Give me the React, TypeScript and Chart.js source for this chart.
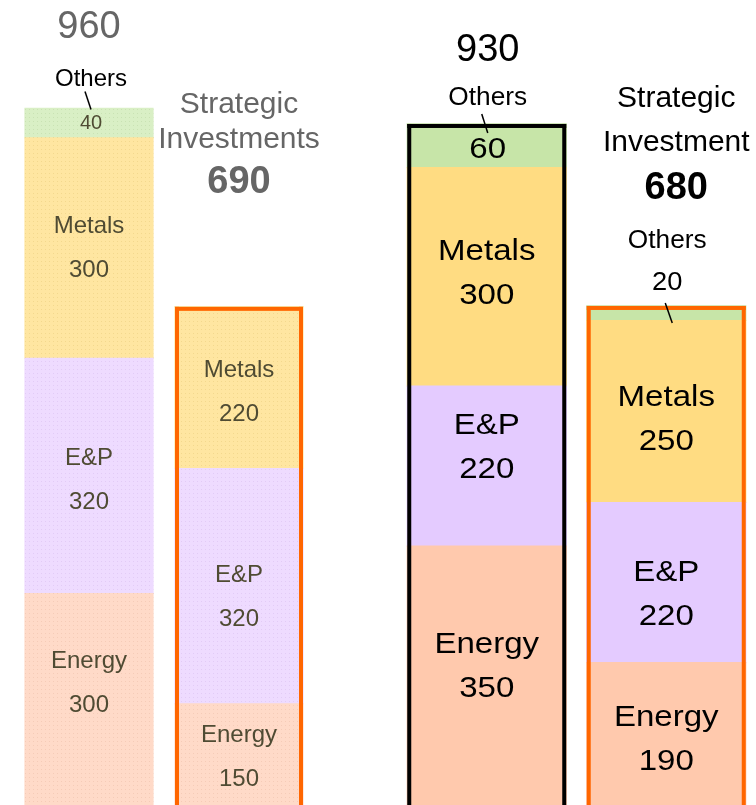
import React, { useEffect, useRef } from "react";
import { Chart, registerables } from "chart.js";

Chart.register(...registerables);

// ---- data ----
const segmentNames = ["Energy", "E&P", "Metals", "Others"];

const leftBars = ["Total", "Strategic Investments"];
const leftEnergy = [300, 150];
const leftEP = [320, 320];
const leftMetals = [300, 220];
const leftOthers = [40, 0];
const leftTotals = [960, 690];

const rightBars = ["Total", "Strategic Investment"];
const rightEnergy = [350, 190];
const rightEP = [220, 220];
const rightMetals = [300, 250];
const rightOthers = [60, 20];
const rightTotals = [930, 680];

// ---- styles ----
const VIEW_H = 805;
const FONT = '"Liberation Sans", Arial, sans-serif';
const leftColors = ["#ffdac8", "#eedbff", "#ffe6a1", "#d9efc5"];
const leftDots = ["#f5cbb7", "#e2cbf6", "#f3d88d", "#c9e2b3"];
const rightColors = ["#ffc9ad", "#e4cbff", "#ffdc82", "#c7e5a8"];
const ORANGE = "#ff6600";
// vertical nudges of the in-bar labels, [bar][segment] (px)
const leftLabelShift = [
  [-16, 4, 0],
  [3, 11, 5],
];
const rightLabelShift = [
  [-7, -18, -3],
  [8, 12, 8],
];

function dotPattern(base: string, dot: string) {
  const c = document.createElement("canvas");
  c.width = 4;
  c.height = 4;
  const g = c.getContext("2d")!;
  g.fillStyle = base;
  g.fillRect(0, 0, 4, 4);
  g.fillStyle = dot;
  g.fillRect(1, 1, 1, 1);
  return g.createPattern(c, "repeat")!;
}

function txt(
  ctx: CanvasRenderingContext2D,
  s: string,
  x: number,
  y: number,
  size: number,
  color: string,
  bold = false,
  sx = 1
) {
  ctx.save();
  ctx.translate(x, y);
  ctx.scale(sx, 1);
  ctx.font = `${bold ? "bold " : ""}${size}px ${FONT}`;
  ctx.fillStyle = color;
  ctx.textAlign = "center";
  ctx.textBaseline = "middle";
  ctx.fillText(s, 0, 0);
  ctx.restore();
}

function line(ctx: CanvasRenderingContext2D, x1: number, y1: number, x2: number, y2: number) {
  ctx.save();
  ctx.strokeStyle = "#000";
  ctx.lineWidth = 1.5;
  ctx.beginPath();
  ctx.moveTo(x1, y1);
  ctx.lineTo(x2, y2);
  ctx.stroke();
  ctx.restore();
}

// outline around a whole stacked bar (top + sides), running off the bottom edge
function outline(chart: any, index: number, total: number, color: string, w: number) {
  const ctx = chart.ctx as CanvasRenderingContext2D;
  const el = chart.getDatasetMeta(0).data[index];
  const p = el.getProps(["x", "width"], true);
  const top = chart.scales.y.getPixelForValue(total);
  const l = p.x - p.width / 2;
  const r = p.x + p.width / 2;
  const h = chart.height - top;
  ctx.save();
  ctx.fillStyle = color;
  ctx.fillRect(l, top, w, h);
  ctx.fillRect(r - w, top, w, h);
  ctx.fillRect(l, top, r - l, w);
  ctx.restore();
}

function segmentLabels(
  chart: any,
  size: number,
  color: string,
  gap: number,
  sx: number,
  shift: number[][]
) {
  const ctx = chart.ctx as CanvasRenderingContext2D;
  const zero = chart.scales.y.getPixelForValue(0);
  for (let i = 0; i < 3; i++) {
    const meta = chart.getDatasetMeta(i);
    const data = chart.data.datasets[i].data as number[];
    meta.data.forEach((el: any, j: number) => {
      const v = data[j];
      if (!v) return;
      const p = el.getProps(["x", "y", "base"], true);
      const bottom = Math.min(p.base, zero, VIEW_H);
      const cy = (p.y + bottom) / 2 + shift[j][i];
      txt(ctx, segmentNames[i], p.x, cy - gap, size, color, false, sx);
      txt(ctx, String(v), p.x, cy + gap, size, color, false, sx);
    });
  }
}

const leftPlugin = {
  id: "leftLabels",
  afterDatasetsDraw(chart: any) {
    const ctx = chart.ctx as CanvasRenderingContext2D;
    const olive = "#4f4b33";
    const grey = "#666666";
    outline(chart, 1, leftTotals[1], ORANGE, 4);
    segmentLabels(chart, 24, olive, 22, 1, leftLabelShift);
    const othersMeta = chart.getDatasetMeta(3);
    const yScale = chart.scales.y;
    // bar 1
    const b1 = othersMeta.data[0].getProps(["x", "y", "base"], true);
    const top1 = yScale.getPixelForValue(leftTotals[0]);
    txt(ctx, String(leftTotals[0]), b1.x, top1 - 81, 38, grey);
    txt(ctx, segmentNames[3], b1.x + 2, top1 - 29, 24, "#000");
    line(ctx, b1.x - 4, top1 - 17, b1.x + 2, top1 + 1);
    txt(ctx, String(leftOthers[0]), b1.x + 2, (b1.y + b1.base) / 2, 20, olive);
    // bar 2
    const b2 = othersMeta.data[1].getProps(["x"], true);
    const top2 = yScale.getPixelForValue(leftTotals[1]);
    txt(ctx, "Strategic", b2.x, top2 - 202, 30, grey);
    txt(ctx, "Investments", b2.x, top2 - 167, 30, grey);
    txt(ctx, String(leftTotals[1]), b2.x, top2 - 124, 38, grey, true);
  },
};

const rightPlugin = {
  id: "rightLabels",
  afterDatasetsDraw(chart: any) {
    const ctx = chart.ctx as CanvasRenderingContext2D;
    outline(chart, 0, rightTotals[0], "#000000", 4);
    outline(chart, 1, rightTotals[1], ORANGE, 4);
    segmentLabels(chart, 29, "#000", 22, 1.14, rightLabelShift);
    const othersMeta = chart.getDatasetMeta(3);
    const yScale = chart.scales.y;
    // bar 3
    const b1 = othersMeta.data[0].getProps(["x", "y", "base"], true);
    const top1 = yScale.getPixelForValue(rightTotals[0]);
    txt(ctx, String(rightTotals[0]), b1.x + 1, top1 - 73, 38, "#000");
    txt(ctx, segmentNames[3], b1.x + 1, top1 - 26, 25, "#000", false, 1.05);
    line(ctx, b1.x - 5, top1 - 10, b1.x + 1, top1 + 9);
    txt(ctx, String(rightOthers[0]), b1.x + 1, (b1.y + b1.base) / 2 + 4, 29, "#000", false, 1.14);
    // bar 4
    const b2 = othersMeta.data[1].getProps(["x"], true);
    const top2 = yScale.getPixelForValue(rightTotals[1]);
    txt(ctx, "Strategic", b2.x + 10, top2 - 207, 30, "#000");
    txt(ctx, "Investment", b2.x + 10, top2 - 163, 30, "#000");
    txt(ctx, String(rightTotals[1]), b2.x + 10, top2 - 117, 38, "#000", true);
    txt(ctx, segmentNames[3], b2.x + 1, top2 - 65, 25, "#000", false, 1.05);
    txt(ctx, String(rightOthers[1]), b2.x + 1, top2 - 23, 26, "#000", false, 1.05);
    line(ctx, b2.x - 1, top2 - 3, b2.x + 6, top2 + 17);
  },
};

function buildConfig(
  labels: string[],
  series: number[][],
  fills: any[],
  thickness: number,
  min: number,
  max: number,
  padLeft: number,
  padRight: number,
  plugin: any
): any {
  return {
    type: "bar",
    data: {
      labels,
      datasets: series.map((d, i) => ({
        label: segmentNames[i],
        data: d,
        backgroundColor: fills[i],
        borderWidth: 0,
        inflateAmount: 0.6,
        barThickness: thickness,
        stack: "s",
        // bottom segment runs past the visible bottom edge, like the cropped original
        ...(i === 0 ? { base: min } : {}),
      })),
    },
    options: {
      responsive: false,
      animation: false,
      devicePixelRatio: 1,
      layout: { padding: { left: padLeft, right: padRight, top: 0, bottom: 0 } },
      plugins: { legend: { display: false }, tooltip: { enabled: false }, title: { display: false } },
      scales: {
        x: { stacked: true, display: false, grid: { display: false } },
        y: { stacked: true, display: false, min, max, grid: { display: false } },
      },
    },
    plugins: [plugin],
  };
}

export default function App() {
  const leftRef = useRef<HTMLCanvasElement>(null);
  const rightRef = useRef<HTMLCanvasElement>(null);

  useEffect(() => {
    document.body.style.margin = "0";
    const leftFills = leftColors.map((c, i) => dotPattern(c, leftDots[i]));
    const left = new Chart(
      leftRef.current!,
      buildConfig(
        leftBars,
        [leftEnergy, leftEP, leftMetals, leftOthers],
        leftFills,
        128,
        -27.2,
        1107.5,
        14,
        64,
        leftPlugin
      )
    );
    const right = new Chart(
      rightRef.current!,
      buildConfig(
        rightBars,
        [rightEnergy, rightEP, rightMetals, rightOthers],
        rightColors,
        159,
        -27.5,
        1100.3,
        19,
        0,
        rightPlugin
      )
    );
    return () => {
      left.destroy();
      right.destroy();
    };
  }, []);

  return (
    <div
      style={{
        position: "fixed",
        left: 0,
        top: 0,
        width: 756,
        height: 805,
        overflow: "hidden",
        background: "#fff",
      }}
    >
      <canvas
        ref={leftRef}
        width={378}
        height={834}
        style={{ position: "absolute", left: 0, top: 0, width: 378, height: 834 }}
      />
      <canvas
        ref={rightRef}
        width={378}
        height={821}
        style={{ position: "absolute", left: 378, top: 0, width: 378, height: 821 }}
      />
    </div>
  );
}
